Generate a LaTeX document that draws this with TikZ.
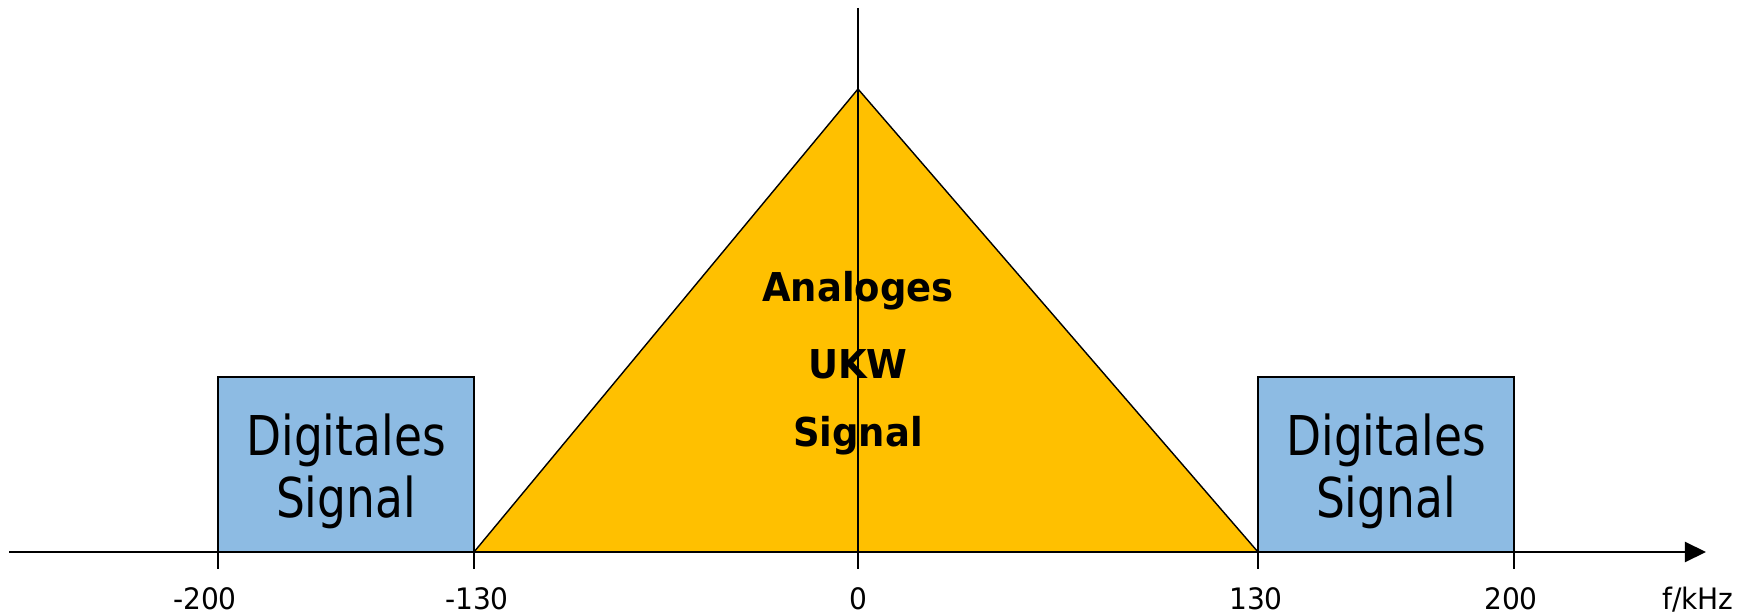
\documentclass[tikz,border=0pt]{standalone}
\usepackage{fontspec}
\setmainfont{DejaVu Sans}[FakeStretch=0.83, BoldFeatures={FakeStretch=0.93}]
\newfontfamily\axisfont{DejaVu Sans}[FakeStretch=0.95]
\usepackage{xcolor}
\usetikzlibrary{arrows.meta, positioning, calc}

\definecolor{analoggold}{HTML}{FFC000}
\definecolor{digiblue}{HTML}{8DBBE3}

\begin{document}
\begin{tikzpicture}[
    x=0.01cm, y=-0.01cm,
    digbox/.style={draw, line width=0.5pt, fill=digiblue, inner sep=0pt,
        minimum width=2.56cm, minimum height=1.75cm},
    digtext/.style={align=center, inner sep=0pt, font=\fontsize{15.6}{17.6}\selectfont},
    analog/.style={draw, line width=0.4pt, fill=analoggold, line join=miter},
    anatext/.style={anchor=base, inner sep=0pt, font=\fontsize{11.3}{13}\selectfont\bfseries},
    ticklabel/.style={anchor=base, inner sep=0pt, font=\axisfont\fontsize{8.4}{10}\selectfont},
    axis/.style={line width=0.6pt},
    line/.style={-{Triangle[length=0.21cm, width=0.2cm]}, line width=0.6pt}
]
\useasboundingbox (0,0) rectangle (1753,615);

% axes end points
\coordinate (xstart) at (9,552);
\coordinate (xend) at (1706,552);
\coordinate (ytop) at (858,8);
\coordinate (ybot) at (858,569);

% analog spectrum
\coordinate (apex) at (858,89);
\coordinate (lfoot) at (474,552);
\coordinate (rfoot) at (1258,552);
\filldraw[analog] (lfoot) -- (apex) -- (rfoot) -- cycle;

\node[anatext] (ana1) at (858,301) {Analoges};
\node[anatext] (ana2) at (858,378) {UKW};
\node[anatext] (ana3) at (858,446) {Signal};

% digital sidebands
\node[digbox] (digl) at (346,464.5) {};
\node[digbox] (digr) at (1386,464.5) {};
\node[digtext, yshift=-0.07cm] (digltext) at (digl.center) {Digitales\\Signal};
\node[digtext, yshift=-0.07cm] (digrtext) at (digr.center) {Digitales\\Signal};

% frequency axis
\draw[line] (xstart) -- (xend);
\draw[axis] (ytop) -- (ybot);
\foreach \x in {218,474,1258,1514}
    \draw[axis] (\x,552) -- (\x,569);

\foreach \x/\lab [count=\i] in {205/-200, 477/-130, 858/0, 1256/130, 1511/200}
    \node[ticklabel] (tick\i) at (\x,609) {\lab};
\node[ticklabel] (unit) at (1698,609) {f/kHz};
\end{tikzpicture}
\end{document}
